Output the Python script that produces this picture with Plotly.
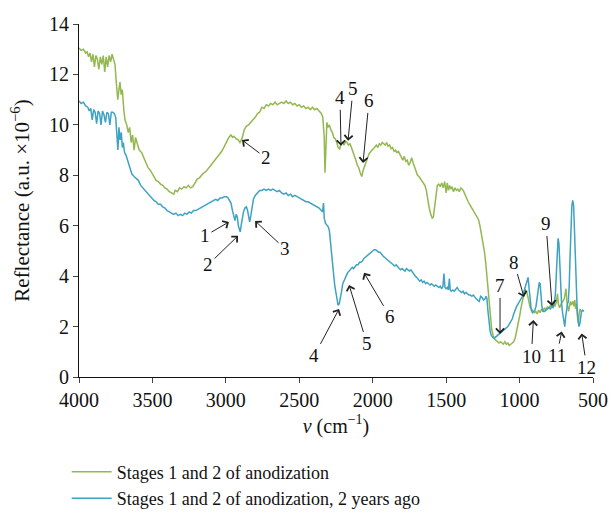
import plotly.graph_objects as go

# ---------------- data ----------------
green_pts = [
    [4000, 13.05], [3985, 12.95], [3970, 13.0], [3955, 12.85], [3945, 12.9], [3935, 12.7],
    [3925, 12.85], [3915, 12.5], [3905, 12.8], [3895, 12.3], [3885, 12.75], [3875, 12.6],
    [3865, 12.2], [3855, 12.7], [3845, 12.4], [3835, 12.75], [3825, 12.1], [3815, 12.7],
    [3805, 12.3], [3795, 12.75], [3785, 12.5], [3775, 12.8], [3765, 12.6], [3755, 12.4],
    [3745, 11.6], [3736, 11.0], [3728, 11.4], [3721, 11.7], [3713, 11.2], [3705, 11.4],
    [3695, 10.6], [3687, 10.2], [3675, 10.0], [3665, 9.7], [3655, 9.9], [3645, 9.3],
    [3635, 9.6], [3625, 9.0], [3615, 9.5], [3600, 9.2], [3590, 9.0], [3573, 8.9],
    [3560, 8.7], [3545, 8.5], [3530, 8.3], [3515, 8.2], [3505, 8.1], [3490, 7.95],
    [3475, 7.8], [3460, 7.75], [3445, 7.65], [3430, 7.6], [3415, 7.5], [3400, 7.45],
    [3385, 7.35], [3370, 7.3], [3355, 7.25], [3345, 7.4], [3330, 7.35], [3315, 7.5],
    [3300, 7.45], [3285, 7.55], [3270, 7.5], [3255, 7.6], [3240, 7.5], [3225, 7.55],
    [3210, 7.7], [3195, 7.85], [3180, 7.9], [3165, 8.0], [3150, 8.1], [3135, 8.15],
    [3121, 8.25], [3105, 8.4], [3090, 8.5], [3075, 8.6], [3060, 8.7], [3045, 8.8],
    [3028, 8.95], [3010, 9.15], [2995, 9.35], [2980, 9.5], [2965, 9.6], [2955, 9.5],
    [2945, 9.55], [2930, 9.45], [2915, 9.4], [2904, 9.3], [2890, 9.45], [2875, 9.8],
    [2860, 9.95], [2845, 10.0], [2830, 10.1], [2815, 10.2], [2800, 10.3], [2785, 10.45],
    [2770, 10.5], [2755, 10.7], [2740, 10.65], [2725, 10.8], [2710, 10.75], [2695, 10.85],
    [2680, 10.8], [2665, 10.9], [2650, 10.8], [2635, 10.85], [2620, 10.9], [2605, 10.85],
    [2590, 10.95], [2575, 10.85], [2560, 10.9], [2545, 10.8], [2530, 10.85], [2515, 10.75],
    [2500, 10.8], [2485, 10.7], [2470, 10.75], [2455, 10.65], [2440, 10.7], [2425, 10.6],
    [2410, 10.7], [2395, 10.6], [2381, 10.65], [2365, 10.55], [2350, 10.45], [2340, 10.3],
    [2330, 9.5], [2325, 8.1], [2320, 9.0], [2312, 10.1], [2305, 9.9], [2295, 10.0],
    [2285, 9.8], [2275, 9.7], [2265, 9.5], [2255, 9.45], [2245, 9.3], [2235, 9.1],
    [2225, 9.05], [2215, 9.25], [2205, 9.3], [2195, 9.2], [2185, 9.35], [2175, 9.3],
    [2165, 9.2], [2155, 9.25], [2145, 9.1], [2135, 8.95], [2125, 8.8], [2115, 8.6],
    [2105, 8.4], [2095, 8.3], [2085, 8.1], [2075, 7.95], [2065, 8.2], [2055, 8.4],
    [2045, 8.5], [2035, 8.7], [2025, 8.85], [2015, 8.95], [2005, 9.0], [1995, 9.05],
    [1985, 9.15], [1975, 9.2], [1965, 9.1], [1955, 9.25], [1945, 9.2], [1935, 9.3],
    [1925, 9.25], [1915, 9.2], [1905, 9.3], [1895, 9.15], [1885, 9.2], [1875, 9.05],
    [1865, 9.1], [1855, 8.95], [1845, 9.0], [1835, 8.9], [1825, 8.95], [1815, 8.85],
    [1805, 8.7], [1795, 8.6], [1785, 8.75], [1775, 8.55], [1765, 8.6], [1755, 8.4],
    [1745, 8.5], [1735, 8.7], [1725, 8.5], [1715, 8.3], [1705, 8.1], [1695, 8.0],
    [1685, 7.95], [1675, 7.85], [1665, 7.8], [1655, 7.7], [1645, 7.6], [1635, 7.4],
    [1625, 7.0], [1615, 6.7], [1605, 6.45], [1595, 6.3], [1587, 6.35], [1578, 6.8],
    [1570, 7.2], [1560, 7.6], [1550, 7.65], [1540, 7.55], [1530, 7.7], [1520, 7.5],
    [1510, 7.75], [1500, 7.3], [1492, 7.7], [1484, 7.4], [1476, 7.6], [1468, 7.45],
    [1460, 7.55], [1450, 7.35], [1440, 7.5], [1430, 7.4], [1420, 7.45], [1410, 7.35],
    [1400, 7.5], [1390, 7.45], [1380, 7.35], [1370, 7.2], [1360, 7.1], [1350, 6.95],
    [1340, 6.85], [1330, 6.75], [1320, 6.7], [1310, 6.6], [1300, 6.5], [1290, 6.4],
    [1280, 6.25], [1270, 6.0], [1260, 5.7], [1250, 5.4], [1240, 5.0], [1230, 4.5],
    [1222, 4.0], [1213, 3.4], [1205, 2.8], [1198, 2.3], [1190, 1.9], [1180, 1.65],
    [1170, 1.5], [1160, 1.45], [1150, 1.4], [1140, 1.35], [1130, 1.4], [1120, 1.35],
    [1110, 1.3], [1100, 1.4], [1090, 1.3], [1080, 1.35], [1070, 1.25], [1060, 1.3],
    [1050, 1.35], [1040, 1.4], [1030, 1.55], [1020, 1.8], [1010, 2.1], [1000, 2.4],
    [990, 2.75], [980, 3.05], [970, 3.3], [960, 3.45], [952, 3.4], [944, 3.2],
    [936, 2.9], [928, 2.75], [920, 2.7], [910, 2.6], [900, 2.55], [890, 2.6],
    [880, 2.5], [870, 2.65], [860, 2.55], [850, 2.7], [840, 2.6], [830, 2.75],
    [820, 2.65], [810, 2.8], [800, 2.7], [790, 2.85], [780, 2.75], [770, 2.9],
    [760, 2.8], [750, 2.95], [742, 3.3], [736, 2.9], [728, 2.75], [720, 2.85],
    [712, 2.95], [704, 3.0], [696, 3.1], [690, 3.3], [684, 3.5], [678, 3.0],
    [672, 2.7], [666, 2.6], [660, 2.8], [654, 3.0], [648, 2.85], [642, 2.9],
    [636, 3.0], [630, 2.8], [624, 3.05], [618, 2.7], [612, 2.9], [606, 2.4],
    [600, 2.15], [594, 2.5], [588, 2.7], [582, 2.6],
]

blue_pts = [
    [4000, 10.95], [3985, 10.85], [3970, 10.9], [3955, 10.75], [3940, 10.7], [3930, 10.55],
    [3920, 10.65], [3910, 10.2], [3900, 10.6], [3890, 10.5], [3880, 10.05], [3870, 10.55],
    [3860, 10.45], [3850, 10.0], [3840, 10.55], [3830, 10.4], [3820, 10.1], [3810, 10.5],
    [3800, 10.45], [3790, 10.0], [3780, 10.5], [3770, 10.5], [3760, 10.45], [3750, 10.3],
    [3742, 9.6], [3735, 9.0], [3728, 9.9], [3720, 9.4], [3712, 9.7], [3705, 9.1],
    [3698, 9.3], [3690, 8.9], [3680, 8.8], [3670, 8.6], [3660, 8.4], [3650, 8.2],
    [3640, 8.05], [3625, 7.95], [3610, 7.85], [3596, 7.8], [3580, 7.6], [3565, 7.5],
    [3550, 7.4], [3535, 7.3], [3520, 7.2], [3505, 7.1], [3490, 7.0], [3475, 6.95],
    [3460, 6.85], [3445, 6.85], [3430, 6.75], [3415, 6.7], [3400, 6.6], [3385, 6.55],
    [3370, 6.5], [3355, 6.45], [3340, 6.5], [3325, 6.4], [3310, 6.45], [3295, 6.4],
    [3280, 6.5], [3265, 6.45], [3250, 6.55], [3235, 6.5], [3220, 6.6], [3205, 6.6],
    [3190, 6.65], [3175, 6.7], [3160, 6.75], [3145, 6.8], [3130, 6.85], [3115, 6.9],
    [3100, 6.95], [3085, 7.0], [3070, 7.05], [3055, 7.0], [3040, 7.1], [3025, 7.1],
    [3010, 7.15], [2995, 7.15], [2985, 7.1], [2975, 7.0], [2965, 6.9], [2955, 6.6],
    [2945, 6.3], [2938, 6.2], [2930, 6.45], [2922, 6.35], [2915, 6.0], [2908, 5.8],
    [2902, 5.75], [2896, 6.0], [2888, 6.4], [2880, 6.55], [2870, 6.7], [2860, 6.75],
    [2852, 6.6], [2845, 6.35], [2838, 6.15], [2830, 6.4], [2822, 6.8], [2812, 7.05],
    [2800, 7.2], [2785, 7.3], [2770, 7.4], [2755, 7.4], [2740, 7.45], [2725, 7.4],
    [2710, 7.45], [2695, 7.4], [2680, 7.45], [2665, 7.4], [2650, 7.35], [2635, 7.4],
    [2620, 7.3], [2605, 7.25], [2590, 7.3], [2575, 7.2], [2560, 7.25], [2545, 7.15],
    [2530, 7.2], [2515, 7.15], [2500, 7.1], [2485, 7.05], [2470, 7.0], [2455, 6.95],
    [2440, 6.95], [2425, 6.9], [2410, 6.85], [2395, 6.8], [2381, 6.75], [2365, 6.7],
    [2350, 6.6], [2342, 6.55], [2335, 6.9], [2330, 6.3], [2322, 6.1], [2312, 6.0],
    [2302, 5.95], [2295, 5.8], [2288, 5.3], [2280, 4.8], [2272, 4.4], [2265, 4.0],
    [2258, 3.6], [2250, 3.3], [2243, 3.0], [2236, 2.85], [2228, 2.9], [2220, 3.1],
    [2212, 3.4], [2204, 3.7], [2196, 3.8], [2188, 3.9], [2180, 4.05], [2170, 4.15],
    [2160, 4.2], [2150, 4.3], [2140, 4.35], [2130, 4.3], [2120, 4.4], [2110, 4.45],
    [2100, 4.45], [2090, 4.55], [2080, 4.55], [2070, 4.6], [2060, 4.7], [2050, 4.75],
    [2040, 4.8], [2030, 4.85], [2020, 4.9], [2010, 4.95], [2000, 5.0], [1990, 5.05],
    [1980, 5.05], [1970, 5.0], [1960, 4.95], [1950, 4.95], [1940, 4.85], [1930, 4.8],
    [1920, 4.75], [1910, 4.7], [1900, 4.65], [1890, 4.6], [1880, 4.55], [1870, 4.5],
    [1860, 4.45], [1850, 4.4], [1840, 4.45], [1830, 4.35], [1820, 4.3], [1810, 4.25],
    [1800, 4.3], [1790, 4.25], [1780, 4.2], [1770, 4.3], [1760, 4.25], [1750, 4.2],
    [1740, 4.25], [1730, 4.15], [1720, 4.1], [1710, 4.0], [1700, 3.95], [1690, 3.85],
    [1680, 3.8], [1670, 3.85], [1660, 3.75], [1650, 3.8], [1640, 3.7], [1630, 3.75],
    [1620, 3.7], [1610, 3.65], [1600, 3.7], [1590, 3.65], [1580, 3.6], [1570, 3.65],
    [1560, 3.6], [1550, 3.55], [1540, 3.6], [1530, 3.5], [1522, 3.6], [1515, 4.1],
    [1508, 3.55], [1500, 3.5], [1492, 3.55], [1485, 3.45], [1478, 3.9], [1472, 3.45],
    [1465, 3.4], [1455, 3.45], [1445, 3.4], [1435, 3.5], [1425, 3.55], [1415, 3.45],
    [1405, 3.4], [1395, 3.35], [1385, 3.4], [1375, 3.3], [1365, 3.35], [1355, 3.3],
    [1345, 3.25], [1335, 3.25], [1325, 3.2], [1315, 3.25], [1305, 3.15], [1295, 3.1],
    [1285, 3.05], [1275, 3.0], [1265, 3.2], [1255, 3.15], [1245, 3.05], [1235, 3.1],
    [1228, 3.2], [1222, 3.1], [1215, 2.6], [1208, 2.1], [1200, 1.8], [1192, 1.65],
    [1185, 1.6], [1178, 1.55], [1170, 1.55], [1160, 1.6], [1150, 1.65], [1140, 1.7],
    [1130, 1.75], [1120, 1.8], [1110, 1.85], [1100, 1.9], [1090, 1.95], [1080, 2.0],
    [1070, 2.1], [1060, 2.2], [1050, 2.3], [1040, 2.5], [1030, 2.7], [1020, 2.8],
    [1010, 2.9], [1000, 3.0], [990, 3.1], [980, 3.2], [970, 3.4], [960, 3.6],
    [950, 3.85], [942, 3.95], [935, 3.5], [928, 2.9], [920, 2.65], [912, 2.55],
    [904, 2.6], [896, 2.65], [888, 2.8], [880, 3.1], [872, 3.5], [866, 3.75],
    [860, 3.7], [854, 3.2], [848, 2.8], [840, 2.6], [830, 2.6], [820, 2.65],
    [810, 2.7], [800, 2.75], [790, 2.7], [780, 2.8], [772, 2.75], [764, 2.9],
    [756, 3.3], [750, 4.2], [744, 5.1], [738, 5.5], [732, 5.3], [726, 4.3],
    [720, 3.4], [714, 2.9], [706, 2.5], [698, 2.2], [692, 2.0], [686, 2.4],
    [680, 2.8], [674, 2.9], [668, 3.0], [662, 3.6], [656, 4.8], [650, 6.0],
    [644, 6.8], [638, 7.0], [632, 6.8], [626, 5.8], [620, 4.4], [614, 3.2],
    [608, 2.7], [602, 2.3], [596, 2.0], [590, 2.1], [584, 2.5], [578, 2.6],
    [570, 2.65], [562, 2.6],
]

series_names = ["Stages 1 and 2 of anodization",
                "Stages 1 and 2 of anodization, 2 years ago"]

x_ticks = [4000, 3500, 3000, 2500, 2000, 1500, 1000, 500]
y_ticks = [0, 2, 4, 6, 8, 10, 12, 14]

# peak labels: (text, wavenumber, value)
green_labels = [("2", 2890, 9.4), ("4", 2216, 9.17), ("5", 2168, 9.37), ("6", 2066, 8.49)]
blue_labels = [("1", 2979, 6.15), ("2", 2917, 5.6), ("3", 2801, 6.19),
               ("4", 2229, 2.7), ("5", 2161, 3.65), ("6", 2059, 4.13),
               ("7", 1133, 1.71), ("8", 970, 3.17), ("9", 779, 2.82),
               ("10", 906, 2.26), ("11", 713, 1.8), ("12", 577, 1.73)]

# ---------------- figure ----------------
FONT = "Liberation Serif"
GREEN = "#93b84f"
BLUE = "#3ea2c3"

fig = go.Figure()
for pts, name, col in [(green_pts, series_names[0], GREEN), (blue_pts, series_names[1], BLUE)]:
    fig.add_trace(go.Scatter(
        x=[p[0] for p in pts], y=[p[1] for p in pts], mode="lines", name=name,
        line=dict(color=col, width=1.5),
    ))

# label offsets in pixels (text centre relative to the arrow tip)
offsets = {
    ("g", "2"): (24, 18), ("g", "4"): (-1, -48), ("g", "5"): (5, -52), ("g", "6"): (6, -62),
    ("b", "1"): (-24, 14), ("b", "2"): (-30, 29), ("b", "3"): (30, 28),
    ("b", "4"): (-25, 47), ("b", "5"): (18, 59), ("b", "6"): (26, 44),
    ("b", "7"): (0, -48), ("b", "8"): (-10, -35), ("b", "9"): (-6, -82),
    ("b", "10"): (-2, 36), ("b", "11"): (-5, 24), ("b", "12"): (5, 34),
}
for key, labels in [("g", green_labels), ("b", blue_labels)]:
    for txt, xv, yv in labels:
        ax, ay = offsets[(key, txt)]
        fig.add_annotation(
            x=xv, y=yv, text=txt, showarrow=True, ax=ax, ay=ay,
            arrowhead=4, arrowsize=1.6, arrowwidth=1, arrowcolor="#222222",
            standoff=0, startstandoff=0,
            font=dict(family=FONT, size=19, color="#111111"),
        )

fig.update_layout(
    width=614, height=512,
    margin=dict(l=79, r=21, t=24, b=135, autoexpand=False),
    paper_bgcolor="white", plot_bgcolor="white",
    font=dict(family=FONT, size=19, color="#111111"),
    showlegend=True,
    legend=dict(orientation="v", x=-0.024, xanchor="left", y=-0.217, yanchor="top",
                font=dict(family=FONT, size=18), tracegroupgap=0,
                itemwidth=40, bgcolor="rgba(0,0,0,0)"),
    xaxis=dict(range=[4000, 500], tickvals=x_ticks, ticks="outside", ticklen=5,
               showline=True, linecolor="#111111", linewidth=1, showgrid=False, zeroline=False,
               tickfont=dict(family=FONT, size=20),
               title=dict(text="<i>ν</i> (cm<sup>−1</sup>)", font=dict(family=FONT, size=20), standoff=8)),
    yaxis=dict(range=[0, 14], tickvals=y_ticks, ticks="outside", ticklen=5,
               showline=True, linecolor="#111111", linewidth=1, showgrid=False, zeroline=False,
               tickfont=dict(family=FONT, size=20),
               title=dict(text="Reflectance (a.u. ×10<sup>−6</sup>)", font=dict(family=FONT, size=21), standoff=13)),
)

fig.write_html("out.html")
